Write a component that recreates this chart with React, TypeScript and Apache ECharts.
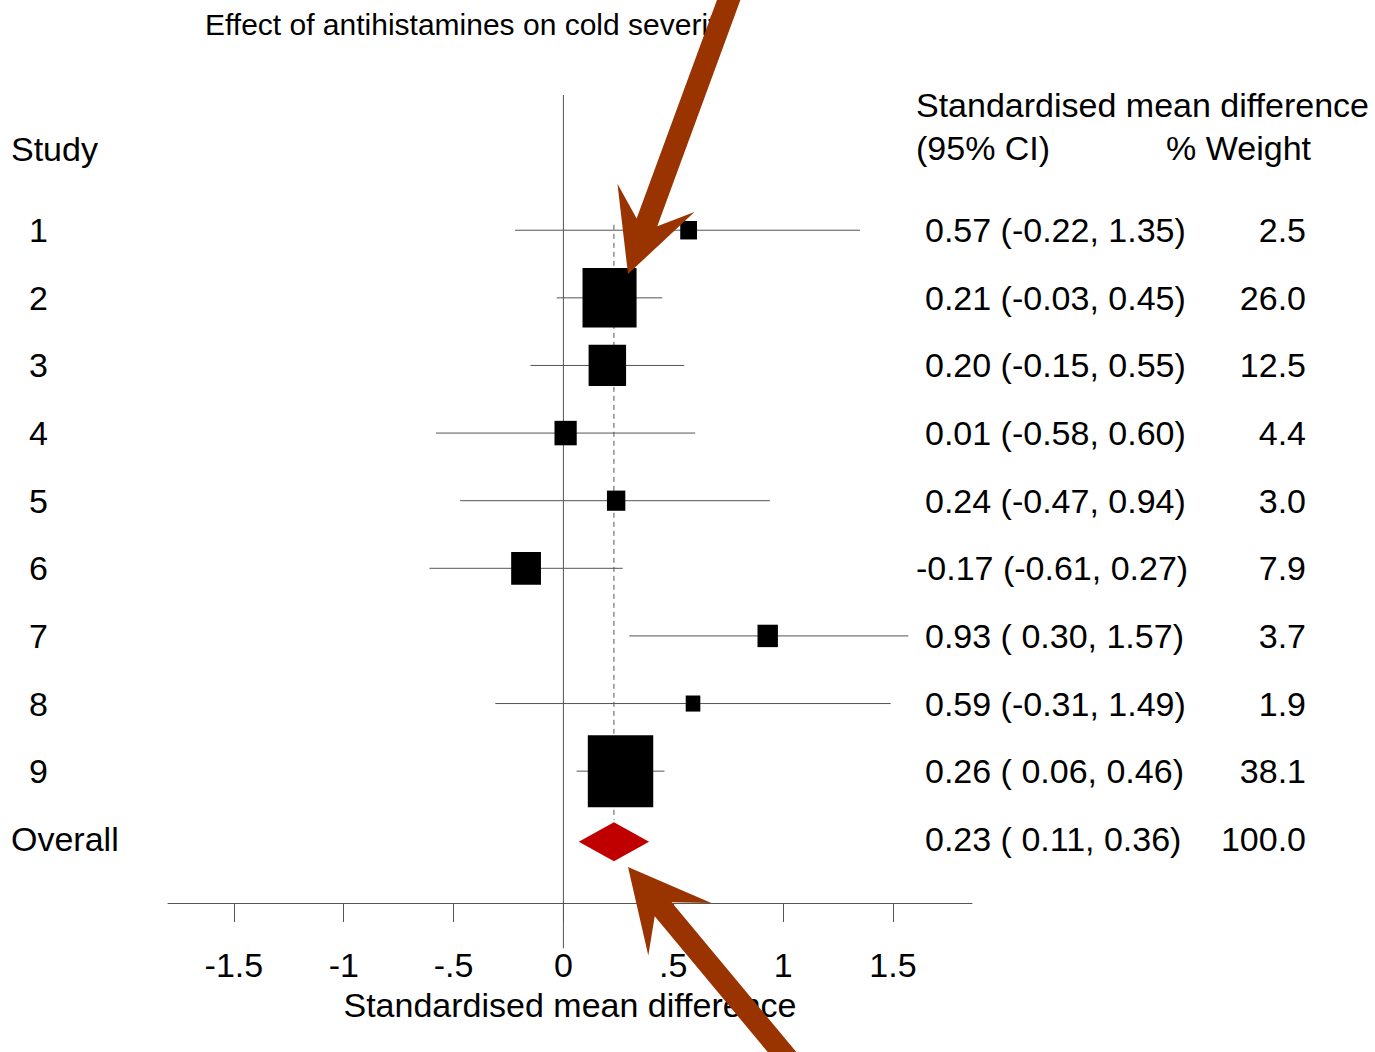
import React, { useEffect, useRef } from "react";
import * as echarts from "echarts";

const titleText = "Effect of antihistamines on cold severity";
const studyHeader = "Study";
const estHeader1 = "Standardised mean difference";
const estHeader2 = "(95% CI)";
const weightHeader = "% Weight";
const xAxisName = "Standardised mean difference";

const studies = ["1", "2", "3", "4", "5", "6", "7", "8", "9"];
const estimates = [0.57, 0.21, 0.2, 0.01, 0.24, -0.17, 0.93, 0.59, 0.26];
const lowerCI = [-0.22, -0.03, -0.15, -0.58, -0.47, -0.61, 0.3, -0.31, 0.06];
const upperCI = [1.35, 0.45, 0.55, 0.6, 0.94, 0.27, 1.57, 1.49, 0.46];
const weights = [2.5, 26.0, 12.5, 4.4, 3.0, 7.9, 3.7, 1.9, 38.1];
const ciLabels = [
  "0.57 (-0.22, 1.35)",
  "0.21 (-0.03, 0.45)",
  "0.20 (-0.15, 0.55)",
  "0.01 (-0.58, 0.60)",
  "0.24 (-0.47, 0.94)",
  "-0.17 (-0.61, 0.27)",
  "0.93 ( 0.30, 1.57)",
  "0.59 (-0.31, 1.49)",
  "0.26 ( 0.06, 0.46)",
];
const weightLabels = ["2.5", "26.0", "12.5", "4.4", "3.0", "7.9", "3.7", "1.9", "38.1"];

const overallLabel = "Overall";
const overallEstimate = 0.23;
const overallCiText = "0.23 ( 0.11, 0.36)";
const overallWeightText = "100.0";
// diamond extent as drawn in the picture: [left, centre, right]
const overallDiamond = [0.07, 0.23, 0.39];

const xTickValues = [-1.5, -1, -0.5, 0, 0.5, 1, 1.5];
const xTickLabels = ["-1.5", "-1", "-.5", "0", ".5", "1", "1.5"];

const FONT = "Liberation Sans, Arial, Helvetica, sans-serif";
const FS = 34;
const GREY = "#555555";
const ARROW = "#993300";
const DIAMOND = "#c00000";
const SIZE_K = 10.6;
const RECT_ASPECT = 1.1;

const rowLabels = [...studies, overallLabel];
const ciTexts = [...ciLabels, overallCiText];
const weightTexts = [...weightLabels, overallWeightText];
const overallRow = studies.length + 1;

function txt(text: string, x: number, y: number, align: string, size = FS) {
  return {
    type: "text",
    x,
    y,
    style: {
      text,
      x: 0,
      y: 0,
      fill: "#000",
      fontSize: size,
      fontFamily: FONT,
      align,
      verticalAlign: "middle",
      textAlign: align,
      textVerticalAlign: "middle",
    },
    silent: true,
  };
}

function arrowPoints(tip: number[], tail: number[]) {
  const dx = tail[0] - tip[0];
  const dy = tail[1] - tip[1];
  const len = Math.hypot(dx, dy);
  const ux = dx / len;
  const uy = dy / len;
  const px = uy;
  const py = -ux;
  const pt = (a: number, b: number) => [tip[0] + ux * a + px * b, tip[1] + uy * a + py * b];
  const headLen = 81;
  const headHalf = 41;
  const notch = 55;
  const shaft = 11;
  const far = 420;
  return [
    pt(0, 0),
    pt(headLen, headHalf),
    pt(notch, shaft),
    pt(far, shaft),
    pt(far, -shaft),
    pt(notch, -shaft),
    pt(headLen, -headHalf),
  ];
}

export default function App() {
  const ref = useRef<HTMLDivElement>(null);
  useEffect(() => {
    const chart = echarts.init(ref.current!, undefined, { renderer: "svg" });
    const option: any = {
      animation: false,
      backgroundColor: "#ffffff",
      grid: { left: 168, right: 403, top: 95, bottom: 149 },
      xAxis: {
        type: "value",
        min: -1.8,
        max: 1.86,
        axisLine: { show: true, onZero: false, lineStyle: { color: GREY, width: 1 } },
        axisTick: {
          show: true,
          customValues: xTickValues,
          length: 19,
          lineStyle: { color: GREY, width: 1 },
        },
        axisLabel: {
          show: true,
          customValues: xTickValues,
          margin: 48,
          color: "#000",
          fontSize: FS,
          lineHeight: 28,
          fontFamily: FONT,
          formatter: (v: number) => {
            const i = xTickValues.findIndex((t) => Math.abs(t - v) < 1e-9);
            return i >= 0 ? xTickLabels[i] : "";
          },
        },
        splitLine: { show: false },
        name: xAxisName,
        nameLocation: "middle",
        nameGap: 88,
        nameMoveOverlap: false,
        nameTextStyle: { color: "#000", fontSize: FS, lineHeight: 28, fontFamily: FONT },
      },
      yAxis: {
        type: "value",
        inverse: true,
        min: -1,
        max: 10.95,
        show: false,
      },
      series: [
        {
          type: "line",
          data: [
            [0, -1],
            [0, 11.62],
          ],
          clip: false,
          symbol: "none",
          silent: true,
          lineStyle: { color: GREY, width: 1 },
          z: 1,
        },
        {
          type: "line",
          data: [
            [overallEstimate, 0.92],
            [overallEstimate, 9.72],
          ],
          symbol: "none",
          silent: true,
          lineStyle: { color: GREY, width: 1, type: [5, 4] },
          z: 1,
        },
        {
          type: "custom",
          coordinateSystem: "cartesian2d",
          silent: true,
          z: 2,
          data: studies.map((_, i) => [i + 1, estimates[i], lowerCI[i], upperCI[i], weights[i]]),
          encode: { y: 0, x: [1, 2, 3] },
          renderItem: (params: any, api: any) => {
            const row = api.value(0);
            const est = api.value(1);
            const lo = api.value(2);
            const hi = api.value(3);
            const w = api.value(4);
            const pLo = api.coord([lo, row]);
            const pHi = api.coord([hi, row]);
            const pE = api.coord([est, row]);
            const s = SIZE_K * Math.sqrt(w);
            const h = s * RECT_ASPECT;
            return {
              type: "group",
              children: [
                {
                  type: "line",
                  shape: { x1: pLo[0], y1: pLo[1], x2: pHi[0], y2: pHi[1] },
                  style: { stroke: GREY, lineWidth: 1 },
                },
                {
                  type: "rect",
                  shape: { x: pE[0] - s / 2, y: pE[1] - h / 2, width: s, height: h },
                  style: { fill: "#000" },
                },
              ],
            };
          },
        },
        {
          type: "custom",
          coordinateSystem: "cartesian2d",
          silent: true,
          z: 3,
          data: [[overallDiamond[0], overallDiamond[1], overallDiamond[2], overallRow]],
          encode: { x: [0, 1, 2], y: 3 },
          renderItem: (params: any, api: any) => {
            const row = api.value(3);
            const l = api.coord([api.value(0), row]);
            const c = api.coord([api.value(1), row]);
            const r = api.coord([api.value(2), row]);
            const hh = 19.5;
            const yc = c[1] + 3;
            return {
              type: "polygon",
              shape: {
                points: [
                  [l[0], yc],
                  [c[0], yc - hh],
                  [r[0], yc],
                  [c[0], yc + hh],
                ],
              },
              style: { fill: DIAMOND },
            };
          },
        },
        {
          type: "custom",
          coordinateSystem: "cartesian2d",
          silent: true,
          clip: false,
          z: 4,
          data: rowLabels.map((_, i) => [0, i + 1]),
          encode: { x: 0, y: 1 },
          renderItem: (params: any, api: any) => {
            const i = params.dataIndex;
            const y = api.coord([0, api.value(1)])[1];
            const isOverall = i === studies.length;
            const ci = ciTexts[i];
            const neg = ci.charAt(0) === "-";
            return {
              type: "group",
              children: [
                txt(rowLabels[i], isOverall ? 11 : 29, y, "left"),
                txt(ci, neg ? 916 : 925, y, "left"),
                txt(weightTexts[i], 1306, y, "right"),
              ],
            };
          },
        },
      ],
      graphic: [
        txt(titleText, 205, 24, "left", 30),
        txt(studyHeader, 11, 149, "left"),
        txt(estHeader1, 916, 105, "left"),
        txt(estHeader2, 916, 148, "left"),
        txt(weightHeader, 1311, 148, "right"),
        {
          type: "polygon",
          silent: true,
          z: 100,
          shape: { points: arrowPoints([628, 274], [725, 10]) },
          style: { fill: ARROW },
        },
        {
          type: "polygon",
          silent: true,
          z: 100,
          shape: { points: arrowPoints([628, 867], [782, 1052]) },
          style: { fill: ARROW },
        },
      ],
    };
    chart.setOption(option);
    return () => chart.dispose();
  }, []);
  return (
    <div
      ref={ref}
      style={{ position: "absolute", left: 0, top: 0, width: 1375, height: 1052, background: "#fff" }}
    />
  );
}
